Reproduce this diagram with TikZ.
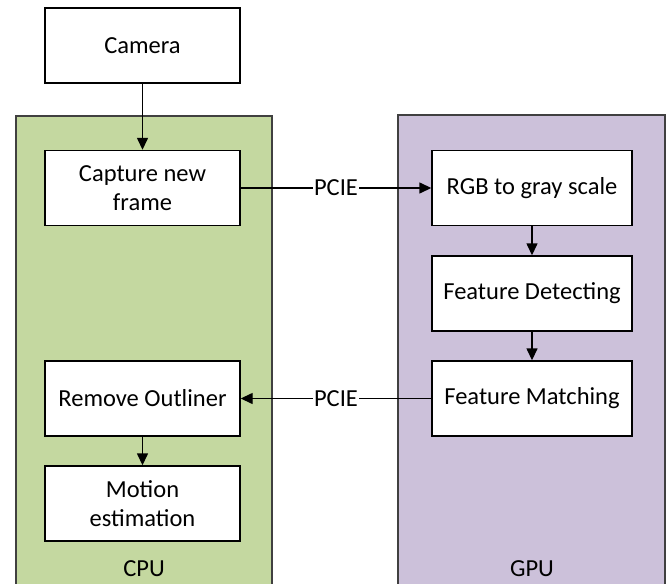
\documentclass[tikz,border=0pt]{standalone}
\usepackage{fontspec}
\setmainfont{Carlito}
\usetikzlibrary{arrows.meta}
\definecolor{cpugreen}{HTML}{C4D8A0}
\definecolor{gpupurple}{HTML}{CCC1DA}
\definecolor{edgegray}{HTML}{404040}
\begin{document}
\begin{tikzpicture}[x=1pt,y=-1pt]
\tikzstyle{every node}+=[font=\fontsize{24.5}{29}\selectfont]
\tikzstyle{block}=[draw=black,fill=white,line width=1.4pt,minimum width=195pt,minimum height=75pt,align=center,inner sep=2pt]
\tikzstyle{gblock}=[block,minimum width=200pt]
\tikzstyle{flow}=[line width=1.4pt,-{Triangle[length=12pt,width=11pt]}]
\useasboundingbox (0,0) rectangle (668,583);
\begin{scope}
\clip (0,0) rectangle (668,583);
\draw [edgegray,fill=cpugreen,line width=1.4pt] (16,116) rectangle (272,600);
\draw [edgegray,fill=gpupurple,line width=1.4pt] (398,115) rectangle (665,600);
\end{scope}
\node [block] (camera) at (142.5,45.5) {Camera};
\node [block] (capture) at (142.5,188) {Capture new\\frame};
\node [block] (remove) at (142.5,398.5) {Remove Outliner};
\node [block] (motion) at (142.5,503.5) {Motion\\estimation};
\node [gblock] (rgb) at (532,188) {RGB to gray scale};
\node [gblock] (detect) at (532,293.5) {Feature Detecting};
\node [gblock] (match) at (532,398.5) {Feature Matching};
\node (cpu) at (144,569) {CPU};
\node (gpu) at (532,569) {GPU};
\draw [flow] (camera) -- (capture);
\draw [flow] (capture) -- node [fill=white,inner sep=1pt] {PCIE} (rgb);
\draw [flow] (rgb) -- (detect);
\draw [flow] (detect) -- (match);
\draw [flow] (match) -- node [fill=white,inner sep=1pt] {PCIE} (remove);
\draw [flow] (remove) -- (motion);
\end{tikzpicture}
\end{document}
